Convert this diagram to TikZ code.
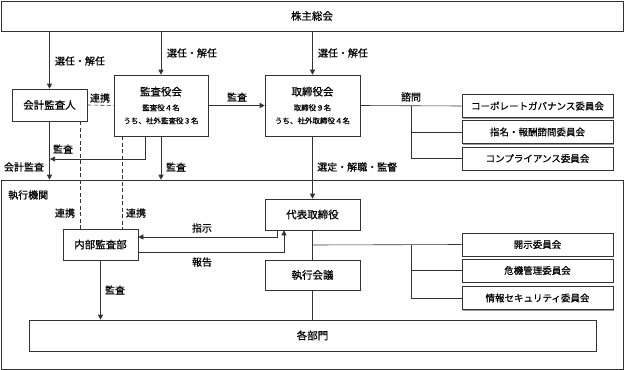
\documentclass[tikz,border=0pt]{standalone}
\usepackage{fontspec}
\setmainfont{Noto Sans CJK JP}[FakeBold=0.6]
\usetikzlibrary{arrows.meta, positioning, calc, shadows}

\newcommand{\pequeno}{\fontsize{7.5}{10}\selectfont}

\begin{document}
\begin{tikzpicture}[
    x=1pt, y=-1pt,
    caixa/.style={
        draw=black!80,
        line width=0.6pt,
        fill=white,
        drop shadow={shadow xshift=1pt, shadow yshift=-1pt, fill=black!40, opacity=1},
        inner sep=0pt,
        align=center,
        font=\fontsize{10.5}{13}\selectfont
    },
    comite/.style={
        caixa,
        minimum width=151pt,
        minimum height=23pt,
        font=\fontsize{9.5}{12}\selectfont
    },
    quadro/.style={
        draw=black!80,
        line width=0.6pt,
        inner sep=0pt
    },
    rotulo/.style={
        font=\fontsize{10}{12}\selectfont,
        inner sep=1pt
    },
    linha/.style={
        draw=black!80,
        line width=0.6pt
    },
    seta/.style={
        linha,
        -{Triangle[length=5pt, width=5pt]}
    },
    tracejado/.style={
        linha,
        dash pattern=on 4pt off 2.5pt
    }
]
\useasboundingbox (0,0) rectangle (625,370);

% =================================================
% QUADROS
% =================================================

\node[quadro, minimum width=622pt, minimum height=30pt,
      font=\fontsize{10.5}{13}\selectfont]
    (kabu) at (312,16) {株主総会};

\node[quadro, minimum width=622pt, minimum height=189pt]
    (kikan) at (312,274.5) {};

\node[rotulo, anchor=west] (kikanlbl) at (7,195) {執行機関};

% =================================================
% BLOCO SUPERIOR
% =================================================

\node[caixa, minimum width=75pt, minimum height=32pt]
    (kaikei) at (49.5,105) {会計監査人};

\node[caixa, minimum width=94pt, minimum height=61pt]
    (kansa) at (161,105.5)
    {監査役会\\[2pt]{\pequeno 監査役４名}\\{\pequeno うち、社外監査役３名}};

\node[caixa, minimum width=95pt, minimum height=61pt]
    (tori) at (312.5,105.5)
    {取締役会\\[2pt]{\pequeno 取締役９名}\\{\pequeno うち、社外取締役４名}};

\node[comite] (cg)   at (537.5,106)   {コーポレートガバナンス委員会};
\node[comite] (shimei) at (537.5,132) {指名・報酬諮問委員会};
\node[comite] (comp) at (537.5,158.5) {コンプライアンス委員会};

% =================================================
% BLOCO INFERIOR
% =================================================

\node[caixa, minimum width=95pt, minimum height=31pt]
    (daihyo) at (312.5,214.5) {代表取締役};

\node[caixa, minimum width=75pt, minimum height=31pt]
    (naibu) at (100.5,244.5) {内部監査部};

\node[caixa, minimum width=95pt, minimum height=30pt]
    (shikkou) at (312.5,275) {執行会議};

\node[caixa, minimum width=567pt, minimum height=31pt]
    (bumon) at (312.5,335.5) {各部門};

\node[comite] (kaiji) at (537.5,244.5) {開示委員会};
\node[comite] (kiki)  at (537.5,270.5) {危機管理委員会};
\node[comite] (joho)  at (537.5,298)   {情報セキュリティ委員会};

% Pontos auxiliares
\coordinate (kj) at (49,159);
\coordinate (kj0) at (145,136);
\coordinate (d1) at (80,0);
\coordinate (d2) at (122,0);
\coordinate (shimon) at (411,106);
\coordinate (iin) at (411,245);
\coordinate (shiji) at (277,237);
\coordinate (hokoku) at (284,252);

% =================================================
% CONEXOES
% =================================================

% Eleicao
\draw[seta] (kaikei.north |- kabu.south) -- (kaikei.north);
\draw[seta] (kansa.north |- kabu.south) -- (kansa.north);
\draw[seta] (tori.north |- kabu.south) -- (tori.north);

\node[rotulo] at (80,61) {選任・解任};
\node[rotulo] at (192,53) {選任・解任};
\node[rotulo] at (343,53) {選任・解任};

% Cooperacao
\draw[tracejado] (kaikei.east) -- (kansa.west);
\node[rotulo] at (100,98) {連携};

\draw[tracejado] (d1 |- kaikei.south) -- (d1 |- naibu.north);
\draw[tracejado] (d2 |- kansa.south) -- (d2 |- naibu.north);
\node[rotulo] at (65,213) {連携};
\node[rotulo] at (136,213) {連携};

% Auditoria
\draw[seta] (kansa.east) -- (tori.west);
\node[rotulo] at (237,97) {監査};

\draw[seta] (kaikei.south) -- (kaikei.south |- kikan.north);
\node[rotulo] at (24,167) {会計監査};

\draw[seta] (kj0) |- ([xshift=1pt]kj);
\node[rotulo] at (63,149) {監査};

\draw[seta] (kansa.south) -- (kansa.south |- kikan.north);
\node[rotulo] at (176,167) {監査};

\draw[seta] (naibu.south) -- (naibu.south |- bumon.north);
\node[rotulo] at (115,290) {監査};

% Conselho
\draw[seta] (tori.south) -- (daihyo.north);
\node[rotulo, anchor=west] at (316,167) {選定・解職・監督};

\draw[linha] (tori.east) -- (cg.west);
\draw[linha] (shimon) |- (comp.west);
\draw[linha] (shimon |- shimei.west) -- (shimei.west);
\node[rotulo] at (411,97) {諮問};

% Execucao
\draw[linha] (daihyo.south) -- (shikkou.north);
\draw[linha] (shikkou.south) -- (bumon.north);

\draw[linha] (daihyo.south |- iin) -- (kaiji.west);
\draw[linha] (iin) |- (joho.west);
\draw[linha] (iin |- kiki.west) -- (kiki.west);

\draw[seta] (daihyo.south -| shiji) |- (naibu.east |- shiji);
\node[rotulo] at (202,228) {指示};

\draw[seta] (naibu.east |- hokoku) -| (daihyo.south -| hokoku);
\node[rotulo] at (202,262) {報告};

\end{tikzpicture}
\end{document}
